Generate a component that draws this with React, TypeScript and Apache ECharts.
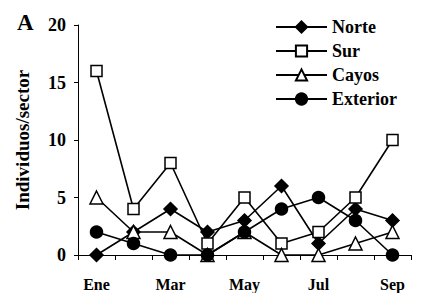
import React, { useEffect, useRef } from "react";
import * as echarts from "echarts";

const months = ["Ene", "Feb", "Mar", "Abr", "May", "Jun", "Jul", "Ago", "Sep"];
const norte = [0, 2, 4, 2, 3, 6, 1, 4, 3];
const sur = [16, 4, 8, 1, 5, 1, 2, 5, 10];
const cayos = [5, 2, 2, 0, 2, 0, 0, 1, 2];
const exterior = [2, 1, 0, 0, 2, 4, 5, 3, 0];
const yTicks = { min: 0, max: 20, interval: 5 };

const FONT = "'Liberation Serif', 'Times New Roman', serif";

export default function App() {
  const ref = useRef<HTMLDivElement>(null);
  useEffect(() => {
    if (!ref.current) return;
    const chart = echarts.init(ref.current, null, { renderer: "svg" });
    const lineStyle = { color: "#000", width: 1.6 };
    const mk = (name: string, data: number[], symbol: string, size: number, fill: string) => ({
      name,
      type: "line",
      data,
      symbol,
      symbolSize: size,
      showAllSymbol: true,
      lineStyle,
      itemStyle: { color: fill, borderColor: "#000", borderWidth: 1.5 },
      emphasis: { disabled: true },
      clip: false,
      z: 3,
    });
    // category boundary ticks: one at the left edge of each category, plus the right edge of the last
    const tickData = months.map((_, i) => [i, 0, 0]).concat([[months.length - 1, 0, 1]]);
    chart.setOption({
      animation: false,
      backgroundColor: "#fff",
      textStyle: { fontFamily: FONT },
      title: {
        text: "A",
        left: 12,
        top: 6,
        textStyle: { fontFamily: FONT, fontSize: 23, fontWeight: "bold", color: "#000" },
      },
      legend: {
        orient: "vertical",
        left: 270,
        top: 13,
        itemWidth: 51,
        itemHeight: 14,
        itemGap: 6,
        textStyle: { fontFamily: FONT, fontSize: 18, fontWeight: "bold", color: "#000" },
        data: ["Norte", "Sur", "Cayos", "Exterior"],
        selectedMode: false,
      },
      grid: { left: 78, top: 25, right: 11, bottom: 38 },
      xAxis: {
        type: "category",
        data: months,
        boundaryGap: true,
        axisLine: { show: true, lineStyle: { color: "#000", width: 1 } },
        axisTick: { show: true, interval: 0, length: 5, lineStyle: { color: "#000", width: 1 } },
        axisLabel: {
          interval: 1,
          margin: 21,
          fontFamily: FONT,
          fontSize: 16,
          fontWeight: "bold",
          color: "#000",
        },
        splitLine: { show: false },
      },
      yAxis: {
        type: "value",
        min: yTicks.min,
        max: yTicks.max,
        interval: yTicks.interval,
        name: "Individuos/sector",
        nameLocation: "middle",
        nameGap: 46,
        nameTextStyle: { fontFamily: FONT, fontSize: 19, fontWeight: "bold", color: "#000" },
        axisLine: { show: true, lineStyle: { color: "#000", width: 1 } },
        axisTick: { show: true, length: 4, lineStyle: { color: "#000" } },
        axisLabel: { margin: 12, fontFamily: FONT, fontSize: 18, fontWeight: "bold", color: "#000" },
        splitLine: { show: false },
      },
      series: [
        {
          name: "ticks",
          type: "custom",
          data: tickData,
          silent: true,
          clip: false,
          z: 1,
          renderItem: (params: any, api: any) => {
            const p = api.coord([api.value(0), api.value(1)]);
            const w = api.size([1, 0])[0];
            const x = Math.round(p[0] + (api.value(2) ? w / 2 : -w / 2)) + 0.5;
            const y = p[1];
            return {
              type: "line",
              shape: { x1: x, y1: y, x2: x, y2: y + 5 },
              style: { stroke: "#000", lineWidth: 1 },
            };
          },
        },
        mk("Norte", norte, "diamond", 13, "#000"),
        mk("Sur", sur, "rect", 11, "#fff"),
        mk("Cayos", cayos, "triangle", 13, "#fff"),
        mk("Exterior", exterior, "circle", 12, "#000"),
      ],
    });
    return () => chart.dispose();
  }, []);
  return (
    <div
      ref={ref}
      style={{ position: "fixed", left: 0, top: 0, width: 422, height: 293, background: "#fff" }}
    />
  );
}
